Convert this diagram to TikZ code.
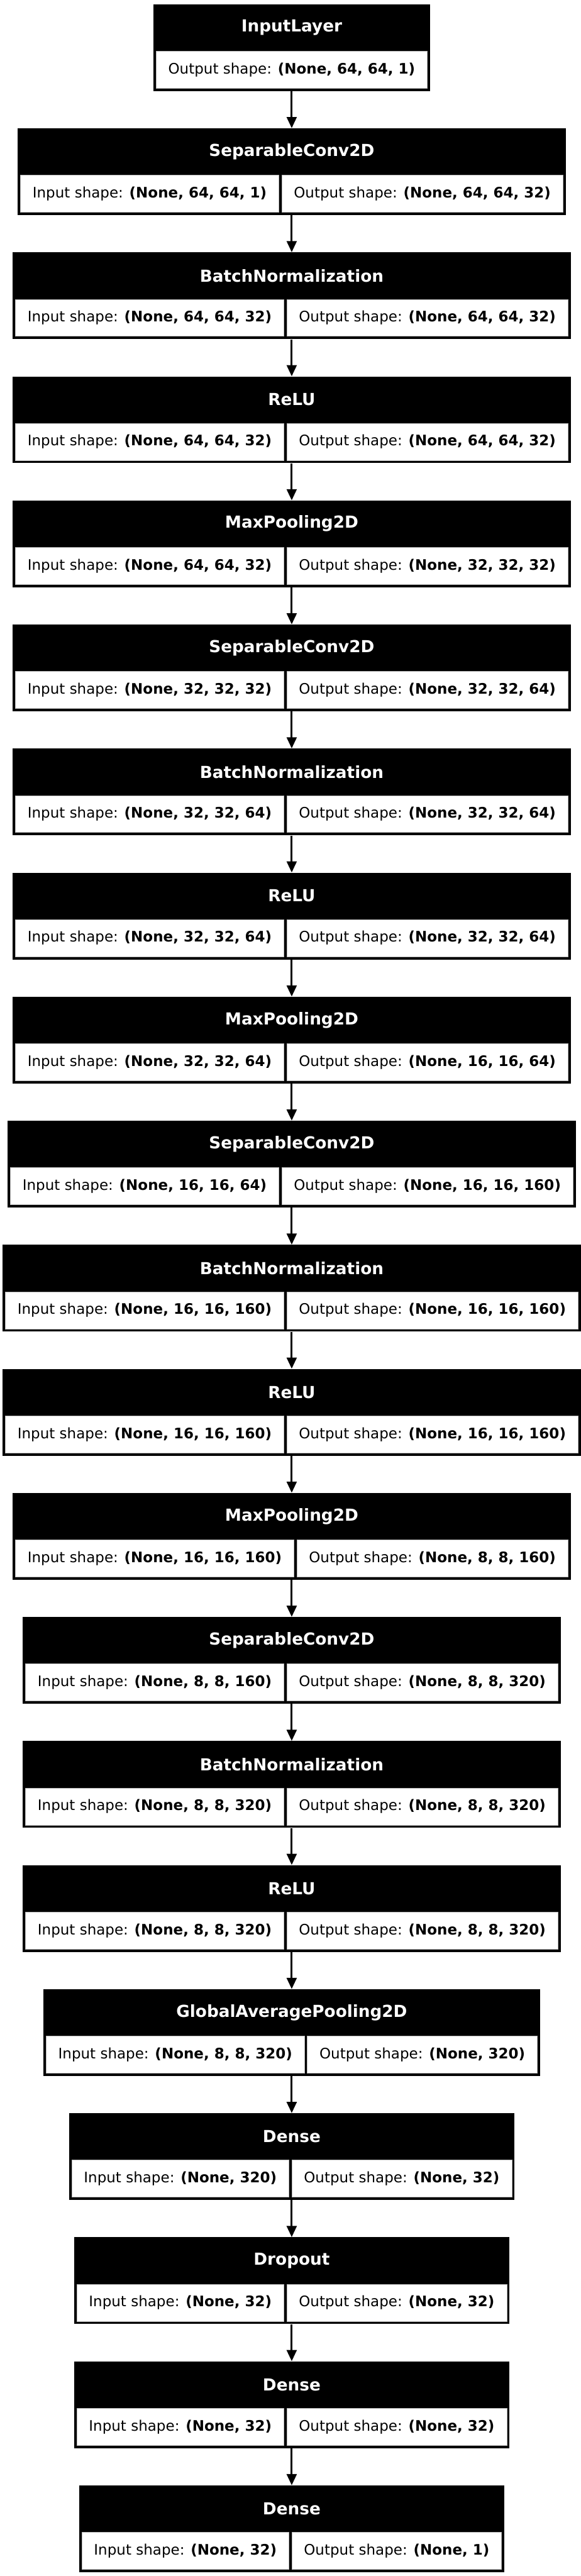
\documentclass[tikz,border=0pt]{standalone}
\usepackage{fontspec}
\setmainfont{DejaVu Sans}
\usetikzlibrary{arrows.meta}
\newlength\wL
\newlength\wR
\newlength\lyL
\newlength\lyR
\newlength\lyW
\newlength\lyT
\newlength\padd
\newlength\bwd
\setlength\padd{11.8pt}
\setlength\bwd{2.7pt}
\newcommand\shp{\fontsize{14}{17}\selectfont}
\newcommand\ttl{\fontsize{16}{19}\selectfont\bfseries}
\def\cx{282.24}
\tikzset{
  box/.style={fill=black, draw=none, inner sep=0pt, minimum height=83.88pt, anchor=north},
  cell/.style={fill=white, draw=gray!55, line width=0.4pt, inner sep=0pt, minimum height=35.82pt, font=\shp},
  ttlnode/.style={text=white, font=\ttl, inner sep=0pt},
  arr/.style={line width=1.9pt, -{Triangle[length=10.8pt,width=9.6pt]}}
}
% measuring (outside the picture, where fonts work)
\newcommand\measLayer[5]{%
  \settowidth\wL{\shp Input shape: \textbf{#4}}%
  \settowidth\wR{\shp Output shape: \textbf{#5}}%
  \expandafter\xdef\csname wL#1\endcsname{\the\wL}%
  \expandafter\xdef\csname wR#1\endcsname{\the\wR}%
}
\newcommand\measIn[4]{%
  \settowidth\wR{\shp Output shape: \textbf{#4}}%
  \expandafter\xdef\csname wR#1\endcsname{\the\wR}%
}
% drawing
\newcommand\drawLayer[5]{%
  \setlength\lyL{\dimexpr\csname wL#1\endcsname+2\padd\relax}%
  \setlength\lyR{\dimexpr\csname wR#1\endcsname+2\padd\relax}%
  \setlength\lyW{\dimexpr\lyL+\lyR+3\bwd\relax}%
  \setlength\lyT{\dimexpr-11pt-#2\dimexpr 333.35pt\relax\relax}%
  \setlength\lyT{0.36\lyT}%
  \node[box, minimum width=\lyW] (#1) at (\cx pt, \lyT) {};
  \node[cell, minimum width=\lyL, anchor=south west] (#1-in) at ([xshift=\bwd, yshift=\bwd]#1.south west) {Input shape: \textbf{#4}};
  \node[cell, minimum width=\lyR, anchor=south east] (#1-out) at ([xshift=-\bwd, yshift=\bwd]#1.south east) {Output shape: \textbf{#5}};
  \node[ttlnode] (#1-t) at ([yshift=-22.68pt]#1.north) {#3};
}
\newcommand\drawIn[4]{%
  \setlength\lyR{\dimexpr\csname wR#1\endcsname+2\padd\relax}%
  \setlength\lyW{\dimexpr\lyR+2\bwd\relax}%
  \setlength\lyT{\dimexpr-11pt-#2\dimexpr 333.35pt\relax\relax}%
  \setlength\lyT{0.36\lyT}%
  \node[box, minimum width=\lyW] (#1) at (\cx pt, \lyT) {};
  \node[cell, minimum width=\lyR, anchor=south] (#1-out) at ([yshift=\bwd]#1.south) {Output shape: \textbf{#4}};
  \node[ttlnode] (#1-t) at ([yshift=-22.68pt]#1.north) {#3};
}
\newcommand\alllayers{%
\lyin{L0}{0}{InputLayer}{(None, 64, 64, 1)}
\ly{L1}{1}{SeparableConv2D}{(None, 64, 64, 1)}{(None, 64, 64, 32)}
\ly{L2}{2}{BatchNormalization}{(None, 64, 64, 32)}{(None, 64, 64, 32)}
\ly{L3}{3}{ReLU}{(None, 64, 64, 32)}{(None, 64, 64, 32)}
\ly{L4}{4}{MaxPooling2D}{(None, 64, 64, 32)}{(None, 32, 32, 32)}
\ly{L5}{5}{SeparableConv2D}{(None, 32, 32, 32)}{(None, 32, 32, 64)}
\ly{L6}{6}{BatchNormalization}{(None, 32, 32, 64)}{(None, 32, 32, 64)}
\ly{L7}{7}{ReLU}{(None, 32, 32, 64)}{(None, 32, 32, 64)}
\ly{L8}{8}{MaxPooling2D}{(None, 32, 32, 64)}{(None, 16, 16, 64)}
\ly{L9}{9}{SeparableConv2D}{(None, 16, 16, 64)}{(None, 16, 16, 160)}
\ly{L10}{10}{BatchNormalization}{(None, 16, 16, 160)}{(None, 16, 16, 160)}
\ly{L11}{11}{ReLU}{(None, 16, 16, 160)}{(None, 16, 16, 160)}
\ly{L12}{12}{MaxPooling2D}{(None, 16, 16, 160)}{(None, 8, 8, 160)}
\ly{L13}{13}{SeparableConv2D}{(None, 8, 8, 160)}{(None, 8, 8, 320)}
\ly{L14}{14}{BatchNormalization}{(None, 8, 8, 320)}{(None, 8, 8, 320)}
\ly{L15}{15}{ReLU}{(None, 8, 8, 320)}{(None, 8, 8, 320)}
\ly{L16}{16}{GlobalAveragePooling2D}{(None, 8, 8, 320)}{(None, 320)}
\ly{L17}{17}{Dense}{(None, 320)}{(None, 32)}
\ly{L18}{18}{Dropout}{(None, 32)}{(None, 32)}
\ly{L19}{19}{Dense}{(None, 32)}{(None, 32)}
\ly{L20}{20}{Dense}{(None, 32)}{(None, 1)}
}
\begin{document}
\let\ly\measLayer\let\lyin\measIn\alllayers
\begin{tikzpicture}[x=1pt,y=1pt]
\useasboundingbox (0,0) rectangle (561.96,-2491.92);
\let\ly\drawLayer\let\lyin\drawIn
\alllayers
\foreach \i [count=\j from 1] in {0,...,19} {
  \draw[arr] (L\i.south) -- (L\j.north);
}
\end{tikzpicture}
\end{document}
